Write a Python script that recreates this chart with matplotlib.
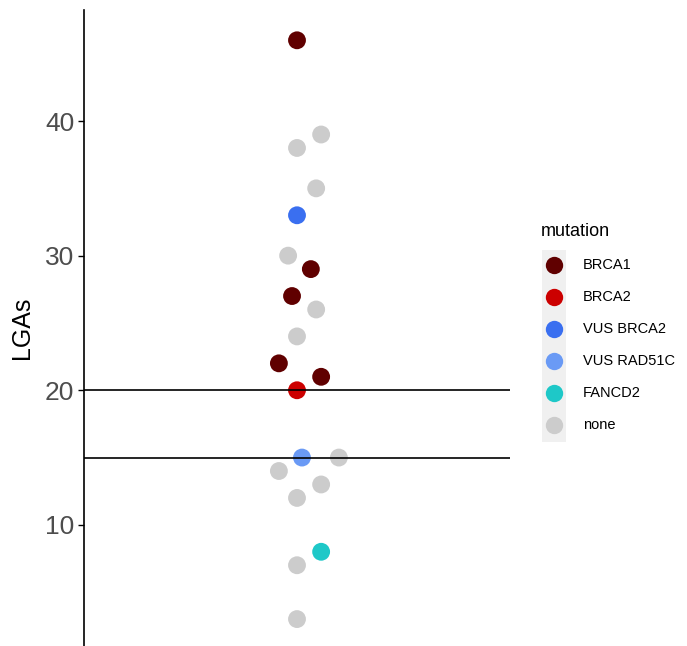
import matplotlib.pyplot as plt
from matplotlib.lines import Line2D
from matplotlib.patches import Rectangle

plt.rcParams['font.family'] = ['Liberation Sans', 'DejaVu Sans']

# data
lgas = [46, 39, 38, 35, 33, 30, 29, 27, 26, 24, 22, 21, 20, 15, 15, 14, 13, 12, 8, 7, 3]
mutation = ['BRCA1', 'none', 'none', 'none', 'VUS BRCA2', 'none', 'BRCA1', 'BRCA1', 'none', 'none',
            'BRCA1', 'BRCA1', 'BRCA2', 'VUS RAD51C', 'none', 'none', 'none', 'none', 'FANCD2', 'none', 'none']
jitter = [0.0, 0.068, 0.0, 0.054, 0.0, -0.025, 0.039, -0.014, 0.054, 0.0,
          -0.051, 0.068, 0.0, 0.014, 0.118, -0.051, 0.068, 0.0, 0.068, 0.0, 0.0]
thresholds = [20, 15]

levels = ['BRCA1', 'BRCA2', 'VUS BRCA2', 'VUS RAD51C', 'FANCD2', 'none']
colors = {'BRCA1': '#600000', 'BRCA2': '#cc0000', 'VUS BRCA2': '#3a6ff0',
          'VUS RAD51C': '#6a9af5', 'FANCD2': '#1ec8c8', 'none': '#cccccc'}

fig = plt.figure(figsize=(6.87, 6.46), dpi=100)
ax = fig.add_axes([84/687, 0.0, (510-84)/687, 1 - 10/646])

xs = [1 + j for j in jitter]
cs = [colors[m] for m in mutation]
ax.scatter(xs, lgas, s=165, c=cs, edgecolors='none', zorder=2)

for t in thresholds:
    ax.axhline(t, color='black', linewidth=1.2, zorder=3)

ax.set_xlim(0.4, 1.6)
ax.set_ylim(1.0, 48.25)
ax.set_yticks([10, 20, 30, 40])
ax.tick_params(axis='y', labelsize=19, labelcolor='#4d4d4d', length=4, width=1, pad=3)
ax.set_xticks([])
for s in ['top', 'right', 'bottom']:
    ax.spines[s].set_visible(False)
ax.spines['left'].set_linewidth(1.2)
ax.set_ylabel('LGAs', fontsize=18, labelpad=8)

# legend, drawn by hand in figure pixels
W, H = 687, 646
fig.text(541/W, 1 - 232/H, 'mutation', fontsize=13, va='center', ha='left')
fig.add_artist(Rectangle((542/W, 1 - 442/H), 24/W, 192/H, transform=fig.transFigure,
                         facecolor='#f0f0f0', edgecolor='none'))
for i, lev in enumerate(levels):
    yy = 1 - (265 + 32*i)/H
    fig.add_artist(Line2D([554/W], [yy], transform=fig.transFigure, marker='o',
                          markersize=12.5, color=colors[lev], markeredgewidth=0, linestyle='none'))
    fig.text(583/W, yy, lev, fontsize=10.5, va='center', ha='left')

fig.savefig('out.png', dpi=100)
